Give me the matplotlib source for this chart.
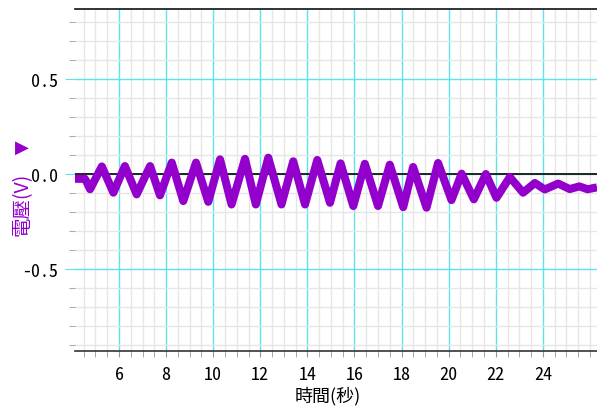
import matplotlib
matplotlib.use("Agg")
import matplotlib.pyplot as plt
from matplotlib.ticker import MultipleLocator

# Voltage trace: turning points of the oscillation (time in s, voltage in V)
time_s = [4.13, 4.55, 4.62, 4.77, 5.27, 5.76, 6.25, 6.75, 7.32, 7.74, 8.24,
          8.73, 9.27, 9.79, 10.29, 10.78, 11.35, 11.81, 12.34, 12.90, 13.40,
          13.90, 14.42, 14.96, 15.41, 15.95, 16.44, 17.00, 17.50, 18.07, 18.49,
          19.06, 19.55, 20.12, 20.55, 21.07, 21.58, 22.03, 22.60, 23.16, 23.66,
          24.08, 24.65, 25.14, 25.55, 25.90, 26.30]
voltage_v = [-0.025, -0.025, -0.04, -0.08, 0.04, -0.098, 0.042, -0.107, 0.042, -0.112, 0.06,
             -0.142, 0.06, -0.146, 0.077, -0.16, 0.08, -0.16, 0.086, -0.16, 0.067,
             -0.16, 0.074, -0.151, 0.056, -0.168, 0.054, -0.168, 0.049, -0.174, 0.037,
             -0.177, 0.058, -0.137, 0.002, -0.133, 0.0, -0.125, -0.016, -0.098, -0.047,
             -0.081, -0.05, -0.079, -0.065, -0.08, -0.07]

x_ticks = [6, 8, 10, 12, 14, 16, 18, 20, 22, 24]
y_ticks = [-0.5, 0.0, 0.5]
y_tick_labels = ["-0.5", "0.0", "0.5"]

PURPLE = "#9300CC"
CYAN = "#5EE3EA"
MINOR = "#E6E6E6"
NUM_FONT = ["Noto Sans Mono CJK TC", "DejaVu Sans Mono"]
CJK_FONT = ["Noto Sans CJK TC", "DejaVu Sans"]

fig = plt.figure(figsize=(5.97, 4.10), dpi=100)
ax = fig.add_axes([0.1256, 0.1415, 0.8744, 0.8353])

ax.set_xlim(4.13, 26.3)
ax.set_ylim(-0.93, 0.87)

ax.xaxis.set_major_locator(MultipleLocator(2))
ax.xaxis.set_minor_locator(MultipleLocator(0.5))
ax.yaxis.set_major_locator(MultipleLocator(0.5))
ax.yaxis.set_minor_locator(MultipleLocator(0.1))

ax.grid(which="minor", color=MINOR, linewidth=1.0)
ax.grid(which="major", color=CYAN, linewidth=1.0)
ax.set_axisbelow(True)

ax.axhline(0, color="#222222", linewidth=1.4, zorder=2)

ax.plot(time_s, voltage_v, color=PURPLE, linewidth=5.8,
        solid_joinstyle="round", solid_capstyle="butt", zorder=3)

ax.set_xticks(x_ticks)
ax.set_xticklabels([str(t) for t in x_ticks], family=NUM_FONT, fontsize=13)
ax.set_yticks(y_ticks)
ax.set_yticklabels(y_tick_labels, family=NUM_FONT, fontsize=13)

ax.tick_params(axis="x", which="major", length=4, color="#999999", pad=6)
ax.tick_params(axis="x", which="minor", length=4, color="#999999")
ax.tick_params(axis="y", which="major", length=7, color=CYAN, pad=5)
ax.tick_params(axis="y", which="minor", length=4, color="#999999")

for side in ("left", "right"):
    ax.spines[side].set_visible(False)
ax.spines["top"].set_color("#111111")
ax.spines["bottom"].set_color("#333333")
ax.spines["top"].set_linewidth(1.2)
ax.spines["bottom"].set_linewidth(1.2)

ax.set_xlabel("時間(秒)", family=CJK_FONT, fontsize=13)
ax.xaxis.set_label_coords(0.485, -0.128)
ax.xaxis.label.set_va("center")

fig.text(0.037, 0.502, "電壓(V)", rotation=90, color=PURPLE,
         family=CJK_FONT, fontsize=14, ha="center", va="center")
fig.text(0.037, 0.639, "\u25B6", color=PURPLE, family=["DejaVu Sans"],
         fontsize=13, ha="center", va="center")

fig.savefig("out.png", dpi=100, facecolor="white")
